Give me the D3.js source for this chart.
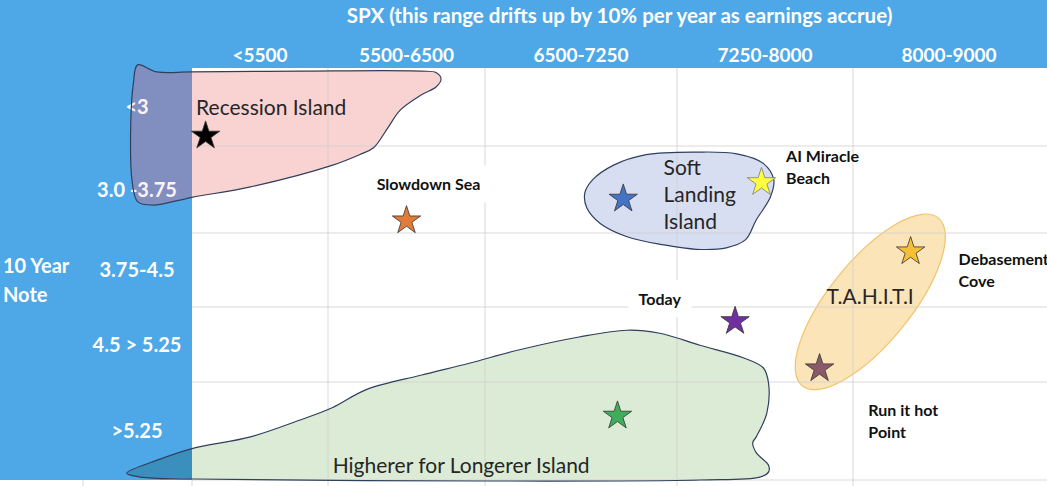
<!DOCTYPE html>
<html>
<head>
<meta charset="utf-8">
<script src="https://cdn.jsdelivr.net/npm/d3@7"></script>
<style>
  html, body { margin: 0; padding: 0; background: #fff; }
  svg { display: block; font-family: Lato, "Open Sans", sans-serif; }
</style>
</head>
<body>
<div id="chart"></div>
<script>
// buckets: SPX across the top, 10y note yield down the side
const spxBuckets = ["<5500", "5500-6500", "6500-7250", "7250-8000", "8000-9000"];
const yieldBuckets = ["<3", "3.0 -3.75", "3.75-4.5", "4.5 > 5.25", ">5.25"];
const xTitle = "SPX (this range drifts up by 10% per year as earnings accrue)";
const yTitle = ["10 Year", "Note"];

// scenario stars, in bucket units (0..5 on each axis)
const starNames = ["Recession", "Slowdown", "Soft Landing", "AI Miracle", "Debasement", "Today", "Run it hot", "Higherer"];
const starSpx = [0.10, 1.50, 2.72, 3.48, 4.30, 3.33, 3.81, 2.69];
const starYld = [0.85, 1.84, 1.59, 1.40, 2.23, 3.17, 3.80, 4.33];

// bold callouts
const calloutText = [["Slowdown Sea"], ["AI Miracle", "Beach"], ["Debasement", "Cove"], ["Today"], ["Run it hot", "Point"]];
const calloutSpx = [1.64, 3.62, 4.55, 2.91, 4.08];
const calloutYld = [1.51, 1.18, 2.43, 2.97, 4.35];

// island names
const islandText = [["Recession Island"], ["Soft", "Landing", "Island"], ["T.A.H.I.T.I"], ["Higherer for Longerer Island"]];
const islandSpx = [0.03, 2.93, 3.85, 1.03];
const islandYld = [0.60, 1.33, 2.96, 4.93];

// island outlines, [spx, yield] in bucket units
const recessionIsland = [
  [-0.40, -0.04], [-0.26, 0.05], [0, 0.05], [0.79, 0.04], [1.59, 0.04], [1.69, 0.06],
  [1.72, 0.14], [1.69, 0.24], [1.59, 0.35], [1.46, 0.54], [1.38, 0.77], [1.29, 1.02],
  [1.20, 1.10], [1.03, 1.22], [0.43, 1.47], [0, 1.59], [-0.29, 1.68], [-0.40, 1.64],
  [-0.44, 1.41], [-0.45, 0.69], [-0.43, 0.18]
];
const softLandingIsland = [
  [2.52, 1.54], [2.56, 1.39], [2.67, 1.22], [2.84, 1.10], [3.11, 1.07], [3.34, 1.09],
  [3.49, 1.20], [3.55, 1.39], [3.53, 1.59], [3.45, 1.85], [3.39, 2.09], [3.28, 2.20],
  [3.11, 2.22], [2.93, 2.16], [2.74, 2.05], [2.60, 1.89], [2.53, 1.71]
];
const highererIsland = [
  [-0.48, 4.93], [-0.24, 4.79], [0, 4.68], [0.43, 4.56], [0.79, 4.39], [1.03, 4.26],
  [1.24, 4.08], [1.59, 3.91], [1.90, 3.75], [2.18, 3.57], [2.49, 3.40], [2.74, 3.31],
  [2.91, 3.35], [3.13, 3.51], [3.38, 3.68], [3.49, 3.81], [3.52, 4.01], [3.51, 4.32],
  [3.45, 4.56], [3.43, 4.62], [3.45, 4.72], [3.52, 4.85], [3.52, 4.92], [3.47, 4.97],
  [3.13, 5.00], [2.00, 5.01], [0, 4.99], [-0.38, 4.97]
];
const tahitiCentre = [4.09, 2.93];

// ---- layout ----
const W = 1047, H = 486;
const blue = "#4ea8e7";
const colEdges = [192, 328, 485, 677, 853, 1045];
const rowEdges = [68, 146, 233, 307, 382, 480];

const x = d3.scaleLinear().domain(d3.range(6)).range(colEdges);
const y = d3.scaleLinear().domain(d3.range(6)).range(rowEdges);

const svg = d3.select("#chart").append("svg")
  .attr("width", W)
  .attr("height", H);

svg.append("defs").append("clipPath")
  .attr("id", "band")
  .append("rect")
  .attr("x", 0).attr("y", 0)
  .attr("width", x(0)).attr("height", y(5));

// blue header + side band
svg.append("rect").attr("x", 0).attr("y", 0).attr("width", W).attr("height", y(0)).attr("fill", blue);
svg.append("rect").attr("x", 0).attr("y", 0).attr("width", x(0)).attr("height", y(5)).attr("fill", blue);

const outline = d3.line()
  .x(d => x(d[0]))
  .y(d => y(d[1]))
  .curve(d3.curveCatmullRomClosed.alpha(0.5));

const islands = [
  {pts: recessionIsland, fill: "#f9d3d2", band: "#6886bf"},
  {pts: softLandingIsland, fill: "#d8def1", band: null},
  {pts: highererIsland, fill: "#dcebd6", band: "#3a8fbc"}
];

// island fills
islands.forEach(d => {
  svg.append("path").attr("d", outline(d.pts)).attr("fill", d.fill);
  if (d.band) {
    svg.append("path").attr("d", outline(d.pts))
      .attr("clip-path", "url(#band)")
      .attr("fill", d.band);
  }
});

// T.A.H.I.T.I
svg.append("ellipse")
  .attr("cx", 0).attr("cy", 0)
  .attr("rx", 108).attr("ry", 41)
  .attr("transform", `translate(${x(tahitiCentre[0])},${y(tahitiCentre[1])}) rotate(-51)`)
  .attr("fill", "#fbe1b0")
  .attr("fill-opacity", 0.9)
  .attr("stroke", "#f1c46c")
  .attr("stroke-width", 1.2);

// grid
const grid = svg.append("g").attr("stroke", "#cfcfcf").attr("stroke-opacity", 0.8).attr("stroke-width", 1);
d3.range(1, 5).forEach(i => {
  grid.append("line").attr("x1", x(i)).attr("x2", x(i)).attr("y1", y(0)).attr("y2", H);
});
d3.range(1, 6).forEach(i => {
  grid.append("line").attr("x1", x(0)).attr("x2", W).attr("y1", y(i)).attr("y2", y(i));
});
grid.append("line").attr("x1", 83).attr("x2", 83).attr("y1", y(5)).attr("y2", H);
grid.append("line").attr("x1", x(0)).attr("x2", x(0)).attr("y1", y(5)).attr("y2", H);

// axis text
svg.append("text")
  .attr("x", (x(0) + W) / 2).attr("y", 23)
  .attr("text-anchor", "middle")
  .attr("fill", "#fff").attr("font-weight", 700).attr("font-size", 20.5)
  .text(xTitle);

svg.selectAll(".col-label").data(spxBuckets).enter().append("text")
  .attr("class", "col-label")
  .attr("x", (d, i) => x(i + 0.5)).attr("y", 62)
  .attr("text-anchor", "middle")
  .attr("fill", "#fff").attr("font-weight", 700).attr("font-size", 19)
  .text(d => d);

svg.selectAll(".row-label").data(yieldBuckets).enter().append("text")
  .attr("class", "row-label")
  .attr("x", 137).attr("y", (d, i) => y(i + 0.5) + 7)
  .attr("text-anchor", "middle")
  .attr("fill", "#fff").attr("font-weight", 700).attr("font-size", 20)
  .text(d => d);

svg.selectAll(".y-title").data(yTitle).enter().append("text")
  .attr("class", "y-title")
  .attr("x", 3).attr("y", (d, i) => 273 + i * 29)
  .attr("fill", "#fff").attr("font-weight", 700).attr("font-size", 20)
  .text(d => d);

// pinkish tint where recession island sits over the labels
svg.append("path").attr("d", outline(recessionIsland))
  .attr("clip-path", "url(#band)")
  .attr("fill", "#f6b9c6").attr("fill-opacity", 0.18);

// island outlines
islands.forEach(d => {
  svg.append("path").attr("d", outline(d.pts))
    .attr("fill", "none")
    .attr("stroke", "#2f3f5e")
    .attr("stroke-width", 1.2);
});

// island names
islandText.forEach((lines, i) => {
  const t = svg.append("text")
    .attr("x", x(islandSpx[i])).attr("y", y(islandYld[i]))
    .attr("fill", "#262626").attr("font-size", 21);
  lines.forEach((s, j) => {
    t.append("tspan").attr("x", x(islandSpx[i])).attr("dy", j ? 27 : 0).text(s);
  });
});

// callouts (Slowdown Sea and Today sit in white boxes that hide the grid)
const boxed = new Set(["Slowdown Sea", "Today"]);
calloutText.forEach((lines, i) => {
  const g = svg.append("g");
  const centred = boxed.has(lines[0]);
  const t = g.append("text")
    .attr("x", x(calloutSpx[i])).attr("y", y(calloutYld[i]))
    .attr("text-anchor", centred ? "middle" : "start")
    .attr("fill", "#111").attr("font-weight", 700).attr("font-size", 16);
  lines.forEach((s, j) => {
    t.append("tspan").attr("x", x(calloutSpx[i])).attr("dy", j ? 22 : 0).text(s);
  });
  if (centred) {
    const b = t.node().getBBox();
    g.insert("rect", "text")
      .attr("x", b.x - 10).attr("y", b.y - 9)
      .attr("width", b.width + 20).attr("height", b.height + 18)
      .attr("fill", "#fff");
  }
});

// stars
const starFill = {
  "Recession": "#000000", "Slowdown": "#e07b39", "Soft Landing": "#4472c4",
  "AI Miracle": "#ffff3c", "Debasement": "#f5c036", "Today": "#7030a0",
  "Run it hot": "#8b5a68", "Higherer": "#3fae5a"
};
const star = d3.symbol().type(d3.symbolStar).size(250);
svg.selectAll(".star").data(starNames).enter().append("path")
  .attr("class", "star")
  .attr("d", star)
  .attr("transform", (d, i) => `translate(${x(starSpx[i])},${y(starYld[i]) + 1.5})`)
  .attr("fill", d => starFill[d])
  .attr("stroke", d => d === "AI Miracle" ? "#7a7a7a" : "#333")
  .attr("stroke-width", 0.8);
</script>
</body>
</html>
